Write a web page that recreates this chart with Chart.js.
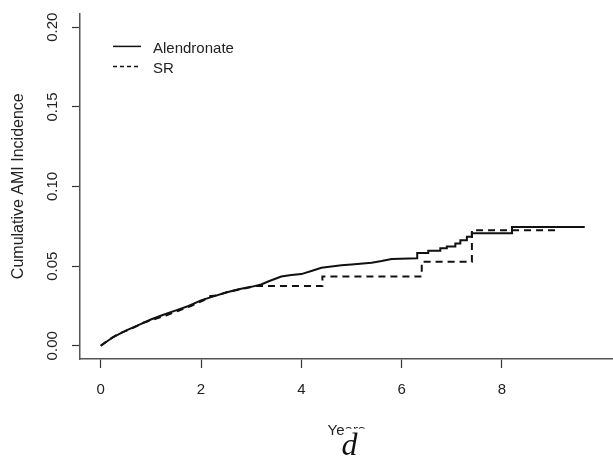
<!DOCTYPE html>
<html><head><meta charset="utf-8">
<script src="https://cdn.jsdelivr.net/npm/chart.js@4.4.1/dist/chart.umd.min.js"></script>
<style>html,body{margin:0;padding:0;background:#fff;} canvas{display:block;}</style>
</head><body>
<canvas id="c" width="613" height="459"></canvas>
<script>
const xTicks = [0, 2, 4, 6, 8];
const yTicks = [0, 0.05, 0.10, 0.15, 0.20];
const seriesNames = ['Alendronate', 'SR'];
const xTitle = 'Years';
const yTitle = 'Cumulative AMI Incidence';

const alendronateYears = [0, 0.25, 0.5, 0.75, 1.0, 1.25, 1.5, 1.75, 2.0, 2.25, 2.5, 2.75, 3.0, 3.2, 3.35, 3.6, 3.8, 4.0, 4.2, 4.4, 4.8, 5.0, 5.4, 5.6, 5.8, 6.31, 6.31, 6.53, 6.53, 6.77, 6.77, 6.9, 6.9, 7.07, 7.07, 7.17, 7.17, 7.3, 7.3, 7.4, 7.4, 8.2, 8.2, 9.65];
const alendronateIncidence = [0, 0.0055, 0.0095, 0.013, 0.0165, 0.0195, 0.0222, 0.025, 0.0285, 0.031, 0.0335, 0.0355, 0.037, 0.0385, 0.0405, 0.0435, 0.0445, 0.045, 0.047, 0.049, 0.0505, 0.051, 0.0522, 0.0532, 0.0545, 0.0549, 0.0582, 0.0582, 0.0597, 0.0597, 0.0612, 0.0612, 0.0624, 0.0624, 0.0643, 0.0643, 0.0663, 0.0663, 0.0684, 0.0684, 0.0707, 0.0707, 0.0746, 0.0746];

const srYears = [0, 0.15, 0.35, 0.6, 0.85, 1.05, 1.3, 1.55, 1.8, 2.05, 2.15, 2.3, 2.55, 2.8, 3.1, 4.42, 4.42, 6.4, 6.4, 7.4, 7.4, 9.12];
const srIncidence = [0, 0.0035, 0.0075, 0.0105, 0.0145, 0.0165, 0.019, 0.022, 0.025, 0.0285, 0.031, 0.0315, 0.034, 0.0355, 0.0375, 0.0375, 0.0435, 0.0435, 0.0528, 0.0528, 0.0726, 0.0726];

const FONT = "'Liberation Sans', Arial, sans-serif";
const toPoints = (xs, ys) => xs.map((x, i) => ({x: x, y: ys[i]}));

const legendPlugin = {
  id: 'rLegend',
  afterDraw(chart) {
    const ctx = chart.ctx, a = chart.chartArea;
    const rows = [{y: a.top + 33, dash: []}, {y: a.top + 53, dash: [4, 3]}];
    ctx.save();
    ctx.strokeStyle = '#111'; ctx.lineWidth = 1.5; ctx.fillStyle = '#222';
    ctx.font = '15px ' + FONT; ctx.textBaseline = 'middle'; ctx.textAlign = 'left';
    rows.forEach((r, i) => {
      ctx.setLineDash(r.dash);
      ctx.beginPath(); ctx.moveTo(a.left + 33, r.y); ctx.lineTo(a.left + 61, r.y); ctx.stroke();
      ctx.fillText(seriesNames[i], a.left + 73, r.y + 2);
    });
    ctx.restore();
  }
};

const overlayPlugin = {
  id: 'overlay',
  afterDraw(chart) {
    const ctx = chart.ctx, xs = chart.scales.x;
    ctx.save();
    ctx.font = '15px ' + FONT;
    ctx.textBaseline = 'middle';
    const cx = (xs.left + xs.right) / 2;
    const w = ctx.measureText(xTitle).width;
    const start = cx - w / 2;
    const wYe = ctx.measureText(xTitle.slice(0, 2)).width;
    const midY = xs.bottom - 19 - 9;
    const mA = ctx.measureText('a');
    const xTop = midY - mA.actualBoundingBoxAscent;
    ctx.fillStyle = '#fff';
    ctx.fillRect(start + wYe + 0.5, xTop + 1.5, w - wYe + 4, 24);
    ctx.fillStyle = '#111';
    ctx.font = 'italic 32px "Liberation Serif", "Times New Roman", serif';
    ctx.textBaseline = 'alphabetic'; ctx.textAlign = 'left';
    ctx.fillText('d', start + wYe - 3, chart.height - 4);
    ctx.restore();
  }
};

new Chart(document.getElementById('c'), {
  type: 'line',
  data: {
    datasets: [
      {label: seriesNames[0], data: toPoints(alendronateYears, alendronateIncidence), borderColor: '#111', borderWidth: 2, pointRadius: 0, tension: 0, fill: false},
      {label: seriesNames[1], data: toPoints(srYears, srIncidence), borderColor: '#111', borderWidth: 2, borderDash: [7, 5], pointRadius: 0, tension: 0, fill: false}
    ]
  },
  options: {
    responsive: false, animation: false,
    layout: {padding: {top: 11, right: 0, left: 0, bottom: 0}},
    plugins: {legend: {display: false}, tooltip: {enabled: false}},
    scales: {
      x: {
        type: 'linear', min: -0.413, max: 10.213,
        afterBuildTicks: s => { s.ticks = xTicks.map(v => ({value: v})); },
        afterFit: s => { s.height = 100; },
        grid: {drawOnChartArea: false, drawTicks: true, tickLength: 9, tickColor: '#333', tickWidth: 1.2},
        border: {display: true, color: '#555', width: 1.5},
        ticks: {padding: 13, color: '#222', font: {size: 15, family: FONT}, maxRotation: 0, minRotation: 0, autoSkip: false, callback: v => String(v)},
        title: {display: true, text: xTitle, color: '#222', font: {size: 15, family: FONT}, padding: {top: 0, bottom: 19}}
      },
      y: {
        type: 'linear', min: -0.0083, max: 0.2087,
        afterBuildTicks: s => { s.ticks = yTicks.map(v => ({value: v})); },
        afterFit: s => { s.width = 80; },
        grid: {drawOnChartArea: false, drawTicks: true, tickLength: 8, tickColor: '#333', tickWidth: 1.2},
        border: {display: true, color: '#555', width: 1.5},
        ticks: {padding: 4.4, crossAlign: 'center', minRotation: 90, maxRotation: 90, autoSkip: false, color: '#222', font: {size: 15, family: FONT}, callback: v => v.toFixed(2)},
        title: {display: true, text: yTitle, color: '#222', font: {size: 16, family: FONT}, padding: {top: 9, bottom: 0}}
      }
    }
  },
  plugins: [legendPlugin, overlayPlugin]
});
</script>
</body></html>
